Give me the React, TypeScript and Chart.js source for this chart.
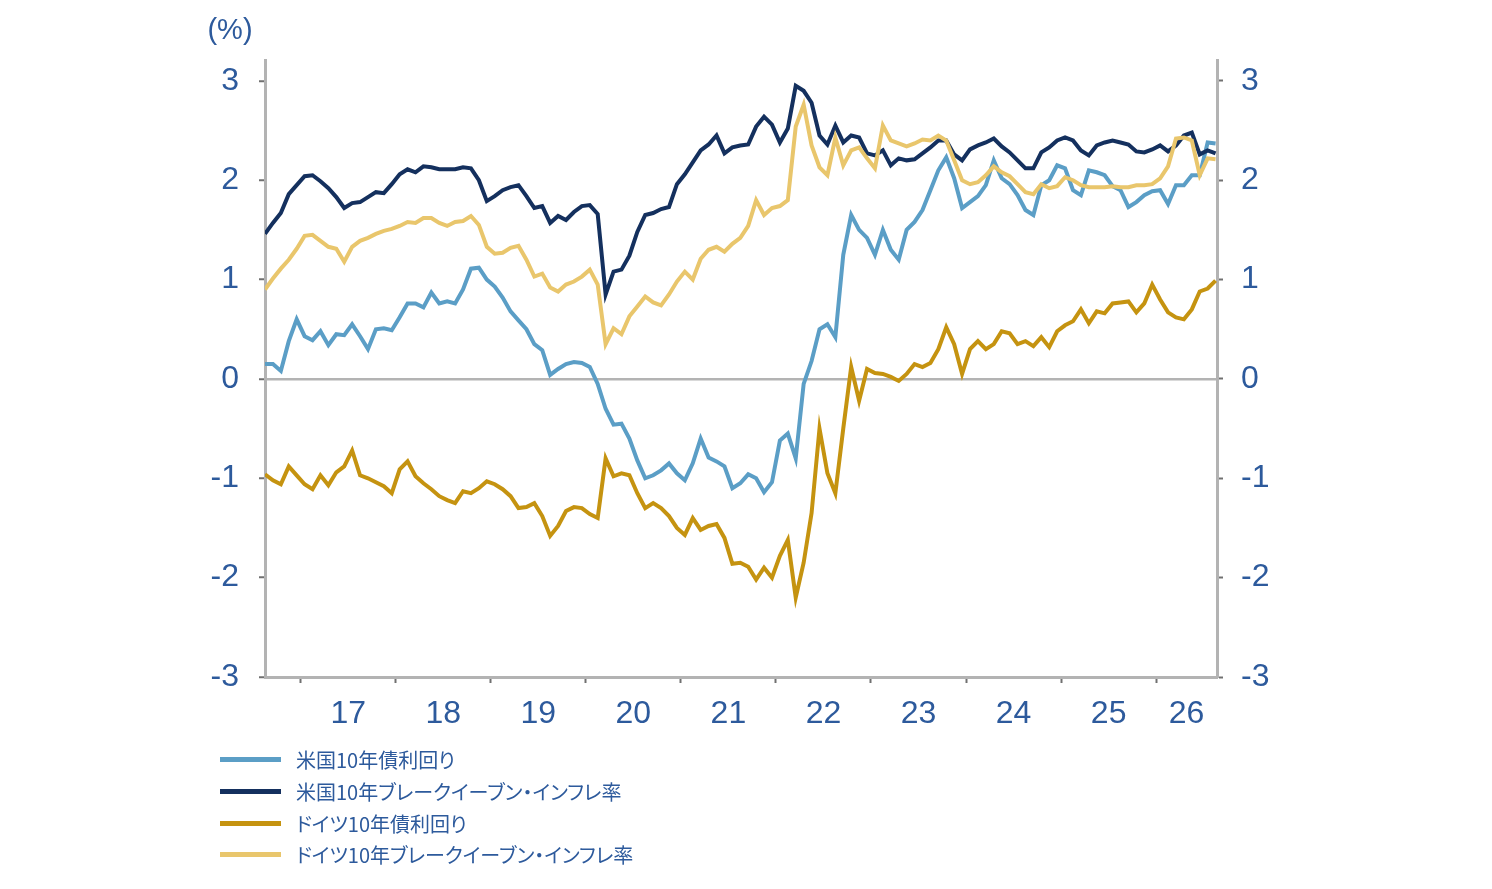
import { useEffect, useRef } from 'react'
import Chart from 'chart.js/auto'

// monthly observations, Aug 2016 .. Aug 2026
const months: string[] = []
for (let i = 0; i < 121; i++) {
  const m = 7 + i
  months.push(`${2016 + Math.floor(m / 12)}-${String((m % 12) + 1).padStart(2, '0')}`)
}

const usYield = [
  0.15, 0.15, 0.08, 0.38, 0.6, 0.43, 0.39, 0.48, 0.34, 0.45, 0.44, 0.55,
  0.43, 0.3, 0.5, 0.51, 0.49, 0.62, 0.76, 0.76, 0.72, 0.87, 0.76, 0.78,
  0.76, 0.9, 1.11, 1.12, 1.0, 0.93, 0.82, 0.68, 0.59, 0.5, 0.35, 0.29,
  0.04, 0.1, 0.15, 0.17, 0.16, 0.12, -0.05, -0.3, -0.46, -0.45, -0.6, -0.82,
  -1.0, -0.97, -0.92, -0.85, -0.95, -1.02, -0.85, -0.6, -0.79, -0.83, -0.88, -1.1,
  -1.05, -0.96, -1.0, -1.14, -1.04, -0.62, -0.55, -0.8, -0.05, 0.18, 0.5, 0.55,
  0.42, 1.25, 1.65, 1.5, 1.42, 1.25, 1.5, 1.3, 1.2, 1.5, 1.58, 1.7,
  1.9, 2.1, 2.23, 2.02, 1.72, 1.78, 1.84, 1.95, 2.2, 2.02, 1.96, 1.85,
  1.7, 1.65, 1.95, 2.0, 2.15, 2.12, 1.9, 1.85, 2.1, 2.08, 2.05, 1.94,
  1.9, 1.73, 1.78, 1.85, 1.89, 1.9, 1.76, 1.95, 1.95, 2.05, 2.05, 2.38, 2.37
]

const usBreakeven = [
  1.46, 1.57, 1.67, 1.86, 1.95, 2.04, 2.05, 1.99, 1.92, 1.83, 1.72, 1.77,
  1.78, 1.83, 1.88, 1.87, 1.96, 2.06, 2.11, 2.08, 2.14, 2.13, 2.11, 2.11,
  2.11, 2.13, 2.12, 2.0, 1.79, 1.84, 1.9, 1.93, 1.95, 1.84, 1.72, 1.74,
  1.57, 1.64, 1.6, 1.68, 1.74, 1.75, 1.66, 0.85, 1.08, 1.1, 1.24, 1.48,
  1.65, 1.67, 1.71, 1.73, 1.96, 2.06, 2.18, 2.3, 2.36, 2.45, 2.27, 2.33,
  2.35, 2.36, 2.54, 2.64, 2.56, 2.38, 2.52, 2.95, 2.9, 2.78, 2.45, 2.36,
  2.55, 2.38, 2.45, 2.43, 2.27, 2.25, 2.3, 2.15, 2.22, 2.2, 2.21, 2.27,
  2.33, 2.4, 2.4, 2.26, 2.2, 2.31, 2.35, 2.38, 2.42, 2.34, 2.28, 2.2,
  2.12, 2.12, 2.28, 2.33, 2.4, 2.43, 2.4, 2.3, 2.25, 2.35, 2.38, 2.4,
  2.38, 2.36, 2.29, 2.28, 2.31, 2.35, 2.29, 2.35, 2.45, 2.48, 2.26, 2.3, 2.27
]

const deYield = [
  -0.96, -1.02, -1.06, -0.88, -0.97, -1.06, -1.11, -0.97, -1.07, -0.94, -0.88, -0.72,
  -0.97, -1.0, -1.04, -1.08, -1.15, -0.91, -0.83, -0.98, -1.05, -1.11, -1.18, -1.22,
  -1.25, -1.13, -1.15, -1.1, -1.03, -1.06, -1.11, -1.18, -1.3, -1.29, -1.25, -1.38,
  -1.58, -1.48, -1.33, -1.29, -1.3, -1.36, -1.4, -0.8, -0.98, -0.95, -0.97, -1.15,
  -1.3, -1.25, -1.3, -1.38, -1.5, -1.57, -1.4, -1.52, -1.48, -1.46, -1.6, -1.86,
  -1.85, -1.89, -2.02, -1.9, -2.0, -1.78, -1.62, -2.2, -1.85, -1.35, -0.5, -0.95,
  -1.15, -0.5, 0.12, -0.22, 0.1, 0.06, 0.05, 0.02, -0.02, 0.05, 0.15, 0.12,
  0.16, 0.3, 0.52, 0.35, 0.05, 0.3, 0.38, 0.3, 0.35, 0.48, 0.46, 0.35,
  0.38, 0.33, 0.42, 0.32, 0.48, 0.54, 0.58, 0.7, 0.56, 0.68, 0.66, 0.76,
  0.77, 0.78, 0.67, 0.76, 0.95, 0.8, 0.67, 0.62, 0.6, 0.7, 0.88, 0.91, 0.99
]

const deBreakeven = [
  0.9, 1.01, 1.11, 1.2, 1.31, 1.44, 1.45, 1.39, 1.33, 1.31, 1.18, 1.33,
  1.39, 1.42, 1.46, 1.49, 1.51, 1.54, 1.58, 1.57, 1.62, 1.62, 1.57, 1.54,
  1.58, 1.59, 1.64, 1.55, 1.33, 1.26, 1.27, 1.32, 1.34, 1.2, 1.03, 1.06,
  0.92, 0.88, 0.95, 0.98, 1.03, 1.1, 0.95, 0.35, 0.51, 0.45, 0.63, 0.73,
  0.83, 0.77, 0.74, 0.85, 0.98, 1.08, 1.0, 1.21, 1.3, 1.33, 1.28, 1.36,
  1.42, 1.54, 1.8, 1.65, 1.72, 1.74, 1.8, 2.54, 2.76, 2.35, 2.13, 2.05,
  2.43, 2.15, 2.3, 2.33, 2.22, 2.12, 2.55, 2.4, 2.37, 2.34, 2.37, 2.41,
  2.4, 2.45, 2.4, 2.2, 2.0, 1.96, 1.98, 2.05, 2.14, 2.08, 2.04, 1.96,
  1.88, 1.86, 1.96, 1.92, 1.94, 2.03, 2.0, 1.95, 1.93, 1.93, 1.93, 1.94,
  1.93, 1.93, 1.95, 1.95, 1.96, 2.02, 2.14, 2.42, 2.43, 2.4, 2.05, 2.22, 2.21
]

const yearTicks = [2017, 2018, 2019, 2020, 2021, 2022, 2023, 2024, 2025, 2026]
const yearLabels = ['17', '18', '19', '20', '21', '22', '23', '24', '25', '26']
const valueTicks = [-3, -2, -1, 0, 1, 2, 3]

const X_MIN = 2016.625
const X_MAX = 2026.64
const Y_MIN = -3
const Y_MAX = 3.21

const series = [
  { label: '米国10年債利回り', data: usYield, color: '#5b9ec6' },
  { label: '米国10年ブレークイーブン・インフレ率', data: usBreakeven, color: '#14305e' },
  { label: 'ドイツ10年債利回り', data: deYield, color: '#c59310' },
  { label: 'ドイツ10年ブレークイーブン・インフレ率', data: deBreakeven, color: '#e9c66c' }
]

const TEXT = '#2d5a9c'
const AXIS = '#b3b3b3'
const TICK = '#707070'
const NUM_FONT = { family: '"Liberation Sans", Arial, sans-serif', size: 32 }

const toYear = (s: string) => {
  const [y, m] = s.split('-').map(Number)
  return y + (m - 0.5) / 12
}

const unitLabel = {
  id: 'unitLabel',
  afterDraw(chart: any) {
    const { ctx, chartArea } = chart
    ctx.save()
    ctx.fillStyle = TEXT
    ctx.font = '29px "Liberation Sans", Arial, sans-serif'
    ctx.textAlign = 'center'
    ctx.textBaseline = 'middle'
    ctx.fillText('(%)', chartArea.left - 35, 23)
    ctx.restore()
  }
}

function YieldChart() {
  const canvasRef = useRef<HTMLCanvasElement>(null)

  useEffect(() => {
    if (!canvasRef.current) return
    const labelPos = yearTicks.map((y) => (y === 2026 ? (y + X_MAX) / 2 : y + 0.5))

    const chart = new Chart(canvasRef.current, {
      type: 'line',
      data: {
        datasets: series.map((s, k) => ({
          label: s.label,
          data: s.data.map((v, i) => ({ x: toYear(months[i]), y: v })),
          borderColor: s.color,
          backgroundColor: s.color,
          borderWidth: 4,
          pointRadius: 0,
          tension: 0,
          order: series.length - k
        }))
      },
      options: {
        responsive: true,
        maintainAspectRatio: false,
        animation: false,
        layout: { padding: { top: 52, left: 0, right: 0, bottom: 0 } },
        plugins: {
          legend: { display: false },
          tooltip: { enabled: false }
        },
        scales: {
          x: {
            type: 'linear',
            position: 'bottom',
            min: X_MIN,
            max: X_MAX,
            afterBuildTicks: (s: any) => {
              s.ticks = yearTicks.map((v) => ({ value: v }))
            },
            ticks: { autoSkip: false, callback: () => '' },
            grid: { drawOnChartArea: false, tickLength: 6, tickColor: TICK, tickWidth: 2 },
            border: { color: AXIS, width: 3 },
            afterFit: (s: any) => {
              s.height = 8
            }
          },
          xLabels: {
            type: 'linear',
            position: 'bottom',
            min: X_MIN,
            max: X_MAX,
            afterBuildTicks: (s: any) => {
              s.ticks = labelPos.map((v) => ({ value: v }))
            },
            ticks: {
              autoSkip: false,
              maxRotation: 0,
              padding: 10,
              color: TEXT,
              font: NUM_FONT,
              callback: (_v: any, i: number) => yearLabels[i]
            },
            grid: { display: false, drawTicks: false },
            border: { display: false },
            afterFit: (s: any) => {
              s.height = 63
            }
          },
          y: {
            position: 'left',
            min: Y_MIN,
            max: Y_MAX,
            afterBuildTicks: (s: any) => {
              s.ticks = valueTicks.map((v) => ({ value: v }))
            },
            ticks: { padding: 20, color: TEXT, font: NUM_FONT, callback: (v: any) => String(v) },
            grid: {
              color: (c: any) => (c.tick && c.tick.value === 0 ? AXIS : 'rgba(0,0,0,0)'),
              lineWidth: 2.5,
              tickColor: TICK,
              tickWidth: 2,
              tickLength: 6
            },
            border: { color: AXIS, width: 3 },
            afterFit: (s: any) => {
              s.width = 257
            }
          },
          yRight: {
            position: 'right',
            min: Y_MIN,
            max: Y_MAX,
            afterBuildTicks: (s: any) => {
              s.ticks = valueTicks.map((v) => ({ value: v }))
            },
            ticks: { padding: 18, color: TEXT, font: NUM_FONT, callback: (v: any) => String(v) },
            grid: { drawOnChartArea: false, tickColor: TICK, tickWidth: 2, tickLength: 6 },
            border: { color: AXIS, width: 3 },
            afterFit: (s: any) => {
              s.width = 267
            }
          }
        }
      },
      plugins: [unitLabel]
    } as any)

    return () => {
      chart.destroy()
    }
  }, [])

  return (
    <div style={{ position: 'relative', width: 1476, height: 740 }}>
      <canvas ref={canvasRef}></canvas>
    </div>
  )
}

export default function App() {
  return (
    <div style={{ position: 'relative', width: 1476, height: 870 }}>
      <YieldChart />
      <div style={{ position: 'absolute', left: 212, top: 736 }}>
        {series.map((s) => (
          <div key={s.label} style={{ display: 'flex', alignItems: 'center', height: 31.7 }}>
            <span style={{ display: 'inline-block', width: 61, height: 5, background: s.color }}></span>
            <span
              style={{
                marginLeft: 15,
                color: TEXT,
                fontSize: 20,
                fontFamily: '"Noto Sans CJK JP", "Noto Sans", sans-serif',
                fontFeatureSettings: '"palt"',
                whiteSpace: 'nowrap',
                lineHeight: '31px'
              }}
            >
              {s.label}
            </span>
          </div>
        ))}
      </div>
    </div>
  )
}
